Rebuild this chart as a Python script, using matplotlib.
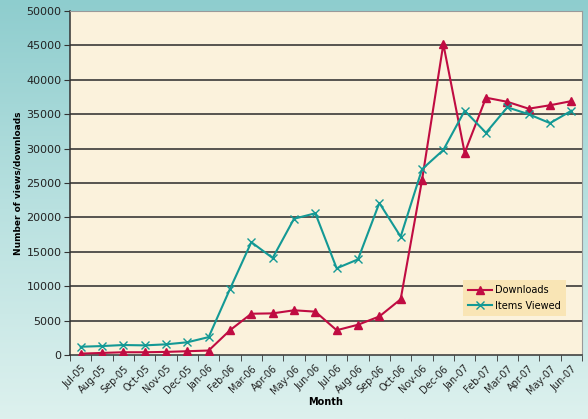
import numpy as np
import matplotlib
matplotlib.use('Agg')
import matplotlib.pyplot as plt
from matplotlib.colors import LinearSegmentedColormap

months = ['Jul-05', 'Aug-05', 'Sep-05', 'Oct-05', 'Nov-05', 'Dec-05', 'Jan-06',
          'Feb-06', 'Mar-06', 'Apr-06', 'May-06', 'Jun-06', 'Jul-06', 'Aug-06',
          'Sep-06', 'Oct-06', 'Nov-06', 'Dec-06', 'Jan-07', 'Feb-07', 'Mar-07',
          'Apr-07', 'May-07', 'Jun-07']
downloads = [200, 300, 400, 400, 450, 550, 650, 3600, 6000, 6050, 6500, 6300,
             3600, 4400, 5600, 8100, 25400, 45200, 29400, 37400, 36800, 35800,
             36300, 36900]
items_viewed = [1200, 1300, 1450, 1400, 1550, 1850, 2600, 9600, 16400, 14100,
                19800, 20600, 12600, 13900, 22100, 17200, 27000, 29800, 35500,
                32300, 36000, 35000, 33700, 35500]
y_ticks = list(range(0, 50001, 5000))

fig = plt.figure(figsize=(5.88, 4.19), dpi=100)

# gradient background
bg = fig.add_axes([0, 0, 1, 1], zorder=0)
cmap = LinearSegmentedColormap.from_list('bg', ['#8ecdce', '#b9e1e0', '#ddf1ee'])
bg.imshow(np.linspace(0, 1, 256).reshape(-1, 1), aspect='auto', cmap=cmap,
          extent=[0, 1, 0, 1])
bg.set_axis_off()

ax = fig.add_axes([70 / 588, 64 / 419, 512 / 588, 344 / 419], zorder=1)
ax.set_facecolor('#fbf2dc')
x = np.arange(len(months))

ax.plot(x, downloads, color='#c00c42', lw=1.5, marker='^', ms=5.5,
        label='Downloads', zorder=3)
ax.plot(x, items_viewed, color='#139995', lw=1.5, marker='x', ms=6, mew=1.0,
        label='Items Viewed', zorder=3)

ax.set_xlim(-0.5, len(months) - 0.5)
ax.set_ylim(0, 50000)
ax.set_yticks(y_ticks)
ax.set_yticklabels([str(v) for v in y_ticks], fontsize=8, color='#222222')
for v in y_ticks[1:-1]:
    ax.axhline(v, color='#2a2a2a', lw=1.1, zorder=1)

ax.set_xticks(x)
ax.set_xticklabels(months, rotation=45, ha='right', rotation_mode='anchor',
                   fontsize=7, color='#222222')
ax.tick_params(axis='x', which='major', length=0, pad=6)
ax.set_xticks(np.arange(-0.5, len(months)), minor=True)
ax.tick_params(axis='x', which='minor', length=4, color='#333333', direction='out')
ax.tick_params(axis='y', length=4, color='#333333', direction='out', pad=2)

ax.spines['left'].set_color('#333333')
ax.spines['bottom'].set_color('#333333')
ax.spines['left'].set_linewidth(1.1)
ax.spines['bottom'].set_linewidth(1.1)
ax.spines['top'].set_color('#9a9a9a')
ax.spines['right'].set_color('#9a9a9a')

ax.set_xlabel('Month', fontsize=7, fontweight='bold', labelpad=1)
ax.set_ylabel('Number of views/downloads', fontsize=6.5, fontweight='bold', labelpad=3)

leg = ax.legend(loc='lower right', bbox_to_anchor=(0.978, 0.1), fontsize=7,
                frameon=True, fancybox=False, handlelength=2.5, borderpad=0.5,
                labelspacing=0.6, handletextpad=0.3)
leg.get_frame().set_facecolor('#f9e5b5')
leg.get_frame().set_edgecolor('none')
leg.get_frame().set_alpha(1)

fig.savefig('out.png', dpi=100)
